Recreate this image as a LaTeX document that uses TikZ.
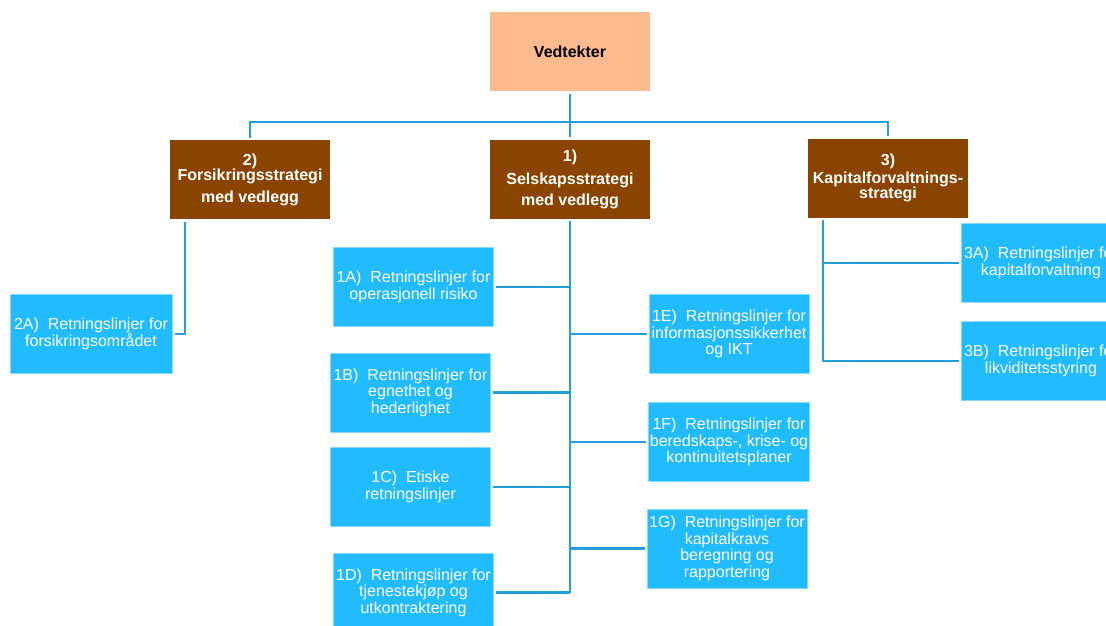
\documentclass[tikz,border=0pt]{standalone}
\usepackage{fontspec}
\setmainfont{Liberation Sans}
\definecolor{fersken}{RGB}{253,186,140}
\definecolor{brun}{RGB}{139,68,0}
\definecolor{himmel}{RGB}{33,187,255}
\definecolor{strek}{RGB}{38,160,218}
\begin{document}
\begin{tikzpicture}[x=1pt, y=-1pt,
  every node/.style = {shape=rectangle, align=center,
    inner sep=1pt, outer sep=2.5pt,
    minimum width=160pt, minimum height=79pt,
    font=\fontsize{16}{16.5}\selectfont},
  topp/.style = {fill=fersken, text=black,
    font=\fontsize{16}{16.5}\selectfont\bfseries},
  strategi/.style = {fill=brun, text=white,
    font=\fontsize{16}{16}\selectfont\bfseries},
  retning/.style = {fill=himmel, draw=himmel!55!white,
    line width=0.8pt, text=white},
  linje/.style = {draw=strek, line width=2.4pt}]
  \clip (0,0) rectangle (1106,625);
  \node[topp] (topp) at (570,51.5) {Vedtekter};
  \node[strategi] (s2) at (250,179.5)
    {2)\\[-1pt]Forsikringsstrategi\\[6pt]med vedlegg};
  \node[strategi] (s1) at (570,179)
    {1)\\[7pt]Selskapsstrategi\\[5pt]med vedlegg};
  \node[strategi] (s3) at (888,178)
    {3)\\[2pt]Kapitalforvaltnings-\\[-1pt]strategi};
  \node[retning, minimum width=162pt] (a2) at (91,334)
    {2A)~ Retningslinjer for\\forsikringsområdet};
  \node[retning] (a1) at (413.5,287)
    {1A)~ Retningslinjer for\\operasjonell risiko};
  \node[retning] (b1) at (410.5,392.5)
    {1B)~ Retningslinjer for\\egnethet og\\hederlighet};
  \node[retning] (c1) at (410.5,487)
    {1C)~ Etiske\\retningslinjer};
  \node[retning] (d1) at (413.5,592.5)
    {1D)~ Retningslinjer for\\tjenestekjøp og\\utkontraktering};
  \node[retning] (e1) at (729,334)
    {1E)~ Retningslinjer for\\informasjonssikkerhet\\og IKT};
  \node[retning] (f1) at (729,442)
    {1F)~ Retningslinjer for\\beredskaps-, krise- og\\kontinuitetsplaner};
  \node[retning] (g1) at (727,548.5)
    {1G)~ Retningslinjer for\\kapitalkravs\\beregning og\\rapportering};
  \node[retning] (a3) at (1041,263)
    {3A)~ Retningslinjer for\\kapitalforvaltning};
  \node[retning] (b3) at (1041,361)
    {3B)~ Retningslinjer for\\likviditetsstyring};
  \coordinate (buss) at (570,122);
  \coordinate (t2) at ([xshift=17.5pt]s2.south west);
  \coordinate (t3) at ([xshift=17.5pt]s3.south west);
  \draw[linje] (topp.south) -- (s1.north);
  \draw[linje] (s2.north) |- (buss) -| (s3.north);
  \draw[linje] (s1.south) -- (s1.south |- d1.east);
  \foreach \n in {a1,b1,c1,d1}
    \draw[linje] (s1.south |- \n.east) -- (\n.east);
  \foreach \n in {e1,f1,g1}
    \draw[linje] (s1.south |- \n.west) -- (\n.west);
  \draw[linje] (t2) |- (a2.east);
  \draw[linje] (t3) |- (b3.west);
  \draw[linje] (t3 |- a3.west) -- (a3.west);
\end{tikzpicture}
\end{document}
